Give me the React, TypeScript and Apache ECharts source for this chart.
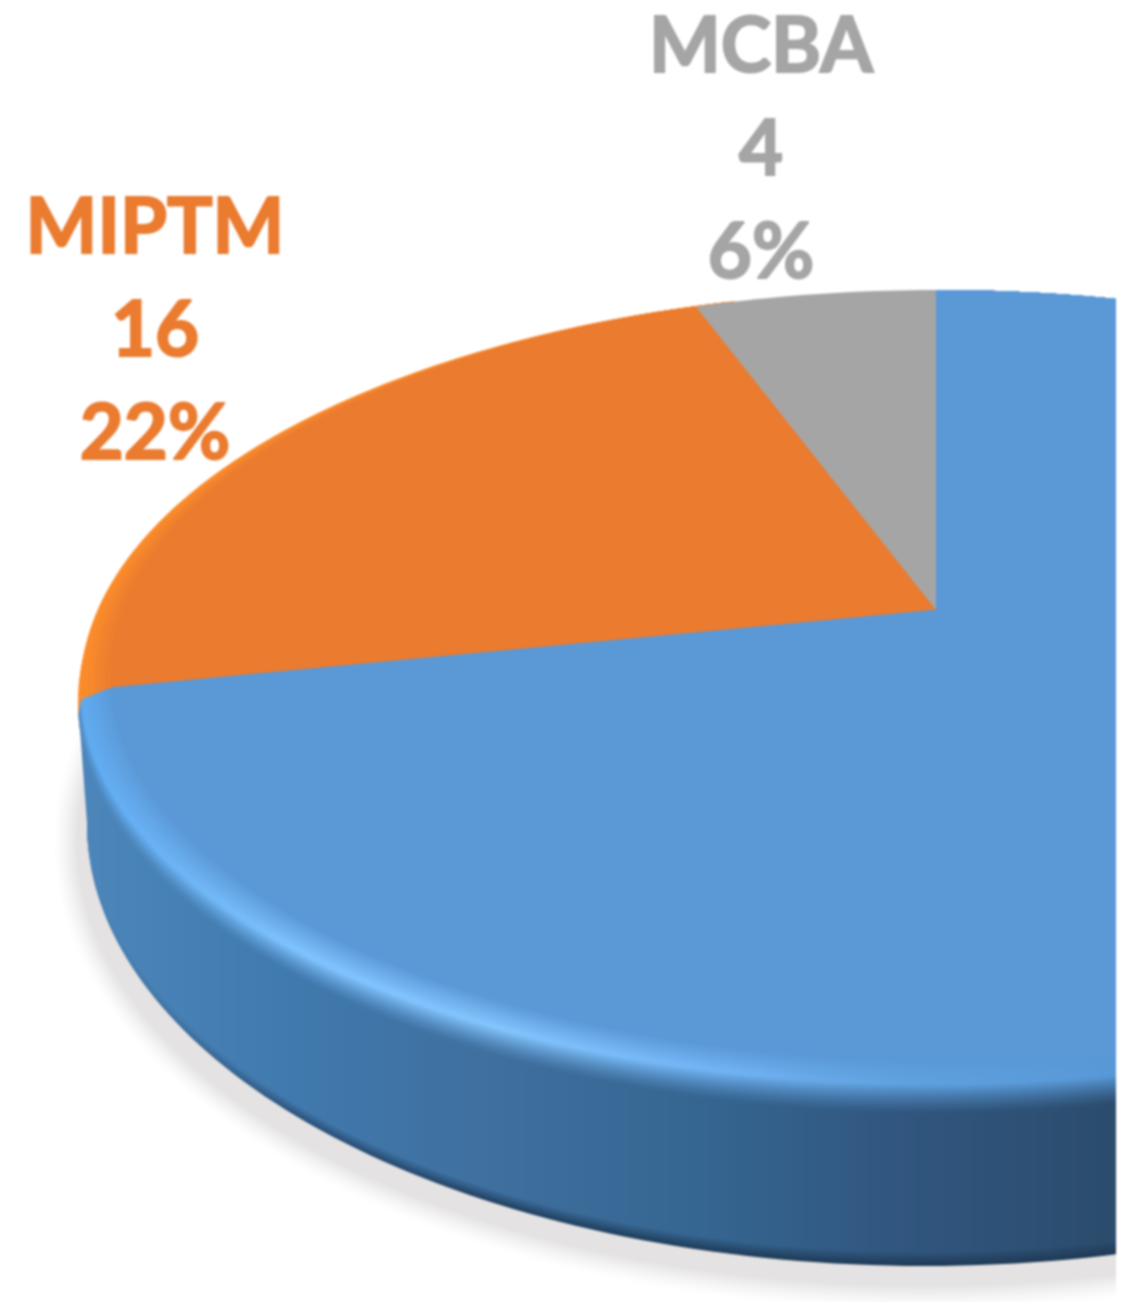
import React, { useEffect, useRef } from "react";
import * as echarts from "echarts";

// Slices counter-clockwise from 12 o'clock.
const categories = ["MCBA", "MIPTM", ""];
const sliceValues = [4, 16, 52];
const slicePercents = [6, 22, 72];
const sliceColors = ["#a5a5a5", "#ea7b2f", "#5a98d6"];
const labelPositions = [[761, 145], [155, 326], null];
const paintOrder = [1, 2, 0];

const W = 1116;
const H = 1302;
const APEX_X = 936;
const APEX_Y = 610;
const LINE_STEP = 103;
const STOP_X = [78, 300, 500, 724, 900, 1116];
const SIDE = ["#4d86bb", "#4079ad", "#3f6f9e", "#34648f", "#31567f", "#2b4c6c"];
const EDGE = ["#4d86bb", "#2a5078", "#20405f", "#1f3d5b", "#1f3a56", "#1f3a56"];
const HIGH = ["#5eaaf0", "#80c4ff", "#84c6ff", "#72b4f6", "#5fa3e0", "#5898d8"];
const FLAT_BLUE = sliceColors[2];
const ORANGE_HIGH = "#fb8c2b";

type Disc = { cx: number; top: number; bottom: number; rx: number; apex: number };

const hex = (c: string) => [1, 3, 5].map((i) => parseInt(c.slice(i, i + 2), 16));
const mix = (a: string, b: string, t: number) => {
  const p = hex(a);
  const q = hex(b);
  const out = p.map((v, i) => Math.round(v + (q[i] - v) * t));
  return "#" + out.map((v) => v.toString(16).padStart(2, "0")).join("");
};

const discPoint = (d: Disc, deg: number): number[] => {
  const a = d.apex - d.top;
  const b = d.bottom - d.apex;
  const k = (a - b) / (a + b);
  const B = a * (1 - k);
  const A = d.rx * Math.sqrt(1 - k * k);
  const r = (deg * Math.PI) / 180;
  const u = -Math.sin(r);
  const v = -Math.cos(r);
  const w = 1 + k * v;
  return [d.cx + (A * u) / w, d.apex + (B * v) / w];
};

const arc = (d: Disc, from: number, to: number) => {
  const n = Math.max(2, Math.ceil(Math.abs(to - from)));
  const pts: number[][] = [];
  for (let i = 0; i <= n; i++) pts.push(discPoint(d, from + ((to - from) * i) / n));
  return pts;
};

const leftmost = (d: Disc) =>
  arc(d, 0, 360).reduce((best, p) => (p[0] < best[0] ? p : best));

const lerp = (a: number, b: number, t: number) => a + (b - a) * t;
const PEAK = 0.55;
const rimDisc = (s: number): Disc => {
  const bottom = s < PEAK ? lerp(1115, 1085, s / PEAK) : lerp(1085, 1060, (s - PEAK) / (1 - PEAK));
  const rx = s < PEAK ? lerp(858, 855, s / PEAK) : lerp(855, 825, (s - PEAK) / (1 - PEAK));
  return { cx: APEX_X, top: 290, bottom, rx, apex: APEX_Y };
};

const xGradient = (colors: string[]) => ({
  type: "linear",
  x: 0,
  y: 0,
  x2: W,
  y2: 0,
  global: true,
  colorStops: colors.map((color, i) => ({ offset: STOP_X[i] / W, color })),
});

const rimColors = (s: number) =>
  STOP_X.map((_, i) =>
    s < PEAK
      ? mix(SIDE[i], HIGH[i], Math.pow(s / PEAK, 1.3))
      : mix(HIGH[i], FLAT_BLUE, (s - PEAK) / (1 - PEAK))
  );

const total = sliceValues.reduce((a, b) => a + b, 0);
const angleRange = (idx: number) => {
  let before = 0;
  for (let i = 0; i < idx; i++) before += sliceValues[i];
  return [(before / total) * 360, ((before + sliceValues[idx]) / total) * 360];
};

const poly = (points: number[][], fill: any) => ({
  type: "polygon",
  shape: { points },
  style: { fill, stroke: "none" },
});

const baseShapes = () => {
  const out: any[] = [];
  const N = 18;
  for (let i = 0; i <= N; i++) {
    const e = 26 * (1 - i / N);
    const shadow: Disc = { cx: 925, top: 400 - e, bottom: 1286 + e, rx: 848 + e, apex: 750 };
    out.push(poly(arc(shadow, 0, 360), mix("#ffffff", "#e4e2e2", Math.pow(i / N, 1.5))));
  }
  const lower: Disc = { cx: 925, top: 382, bottom: 1266, rx: 838, apex: 731 };
  const M = 6;
  for (let i = 0; i <= M; i++) {
    const t = i / M;
    const d = { ...lower, bottom: lower.bottom - i * 2.2 };
    const colors = STOP_X.map((_, c) => mix(EDGE[c], SIDE[c], t));
    out.push(poly(arc(d, 0, 360), xGradient(colors)));
  }
  out.push(poly([leftmost(rimDisc(0)), leftmost(lower), [925, 824]], xGradient(SIDE)));
  return out;
};

const wedge = (s: number, from: number, to: number) => [
  [APEX_X, APEX_Y],
  ...arc(rimDisc(s), from, to),
];

const sliceShapes = (idx: number) => {
  const [a0, a1] = angleRange(idx);
  const out: any[] = [];
  const drop = (s: number) => 1.5 + (1 - s) * 3;
  if (categories[idx] === "MIPTM") {
    out.push(...baseShapes());
    const N = 12;
    for (let i = 0; i <= N; i++) {
      const s = i / N;
      const color = s < PEAK ? ORANGE_HIGH : mix(ORANGE_HIGH, sliceColors[idx], (s - PEAK) / (1 - PEAK));
      out.push(poly(wedge(s, a0 - 3, a1 + 8), color));
    }
  } else if (idx === 2) {
    const N = 26;
    for (let i = 0; i <= N; i++) {
      const s = i / N;
      out.push(poly(wedge(s, a0 + drop(s), a1 + 1), xGradient(rimColors(s))));
    }
  } else {
    out.push(poly(wedge(1, a0, a1), sliceColors[idx]));
  }
  const pos = labelPositions[idx];
  if (pos) {
    const lines = [categories[idx], String(sliceValues[idx]), `${slicePercents[idx]}%`];
    lines.forEach((text, i) => {
      out.push({
        type: "text",
        x: pos[0],
        y: pos[1] + (i - 1) * LINE_STEP,
        style: {
          text,
          fill: sliceColors[idx],
          stroke: sliceColors[idx],
          lineWidth: 2,
          fontFamily: 'Lato, "Open Sans", sans-serif',
          fontWeight: "bold",
          fontSize: 76,
          align: "center",
          verticalAlign: "middle",
        },
      });
    });
  }
  return { type: "group", children: out };
};

export default function App() {
  const ref = useRef<HTMLDivElement>(null);
  useEffect(() => {
    const chart = echarts.init(ref.current!, null, { renderer: "svg" });
    chart.setOption({
      animation: false,
      backgroundColor: "#ffffff",
      series: [
        {
          type: "custom",
          coordinateSystem: "none",
          silent: true,
          data: paintOrder.map((i) => ({ name: categories[i], value: sliceValues[i] })),
          renderItem: (params: any) => sliceShapes(paintOrder[params.dataIndex]),
        },
      ],
    });
    return () => chart.dispose();
  }, []);
  return (
    <div
      ref={ref}
      style={{
        position: "absolute",
        left: 0,
        top: 0,
        width: W,
        height: H,
        filter: "blur(0.8px)",
      }}
    />
  );
}
